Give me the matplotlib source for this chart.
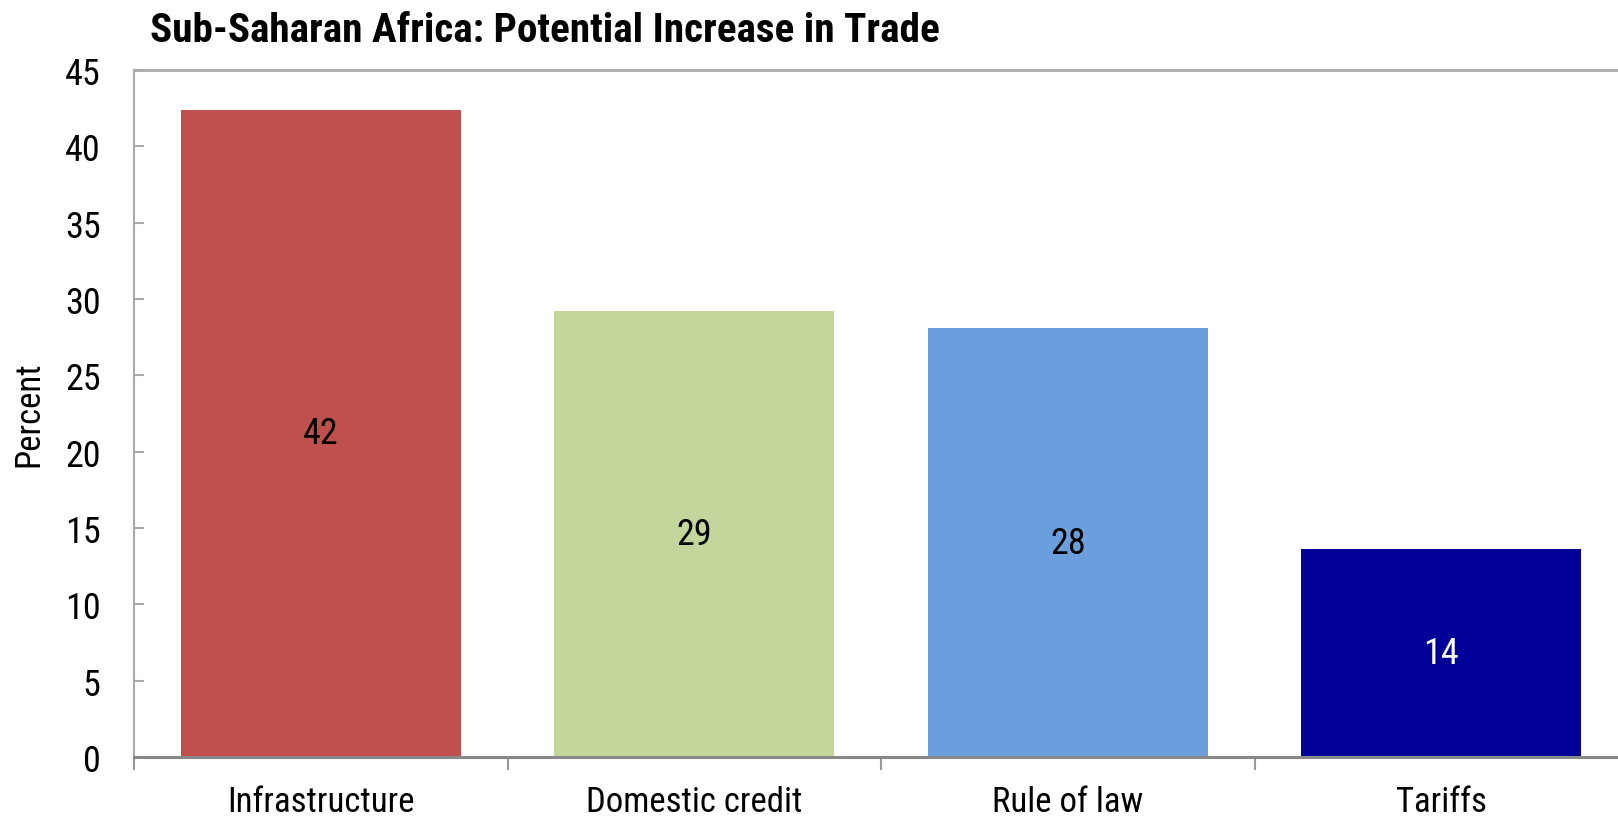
import matplotlib.pyplot as plt
from matplotlib import font_manager
import numpy as np

# potential increase in trade for each factor (percent)
categories = ['Infrastructure', 'Domestic credit', 'Rule of law', 'Tariffs']
values = [42.4, 29.2, 28.1, 13.6]
bar_colors = ['#C0504D', '#C3D69B', '#6A9EDC', '#000099']
label_colors = ['black', 'black', 'black', 'white']
yticks = [0, 5, 10, 15, 20, 25, 30, 35, 40, 45]

# narrow font if there is one
noms = set(f.name for f in font_manager.fontManager.ttflist)
police = None
for n in ['Liberation Sans Narrow', 'Arial Narrow', 'Roboto Condensed', 'Open Sans Condensed', 'Noto Sans Condensed']:
    if n in noms:
        police = n
        break
if police is None:
    police = 'DejaVu Sans'
    plt.rcParams['font.stretch'] = 'condensed'
plt.rcParams['font.family'] = [police, 'DejaVu Sans']

fig = plt.figure(figsize=(16.18, 8.2), dpi=100)
ax = fig.add_axes([134 / 1618, 1 - 758 / 820, 1494 / 1618, (758 - 71) / 820])

x = np.arange(len(categories))
bars = ax.bar(x, values, width=0.75, color=bar_colors, zorder=2)
for b, v, c in zip(bars, values, label_colors):
    ax.text(b.get_x() + b.get_width() / 2, v / 2, '%.0f' % v, ha='center', va='center',
            fontsize=26, color=c)

ax.set_xlim(-0.5, 3.5)
ax.set_ylim(0, 45)
ax.set_yticks(yticks)
ax.set_xticks(x)
ax.set_xticklabels(categories)
ax.set_xticks(np.arange(-0.5, 4, 1), minor=True)
ax.tick_params(axis='x', which='major', length=0, pad=20, labelsize=25)
ax.tick_params(axis='x', which='minor', length=9, width=1.5, color='#999999', direction='out')
ax.tick_params(axis='y', length=7, width=1.5, color='#aaaaaa', direction='in', pad=24, labelsize=26)

ax.spines['right'].set_visible(False)
ax.spines['top'].set_color('#aaaaaa')
ax.spines['top'].set_linewidth(2)
ax.spines['left'].set_color('#aaaaaa')
ax.spines['left'].set_linewidth(1.5)
ax.spines['bottom'].set_color('#888888')
ax.spines['bottom'].set_linewidth(2.2)
ax.spines['bottom'].set_zorder(3)

ax.set_ylabel('Percent', fontsize=25, va='center')
ax.yaxis.set_label_coords(-105 / 1494, 0.5)

fig.text(150 / 1618, 1 - 31 / 820, 'Sub-Saharan Africa: Potential Increase in Trade',
         fontsize=29.6, fontweight='bold', ha='left', va='center')

fig.savefig('out.png', dpi=100)
